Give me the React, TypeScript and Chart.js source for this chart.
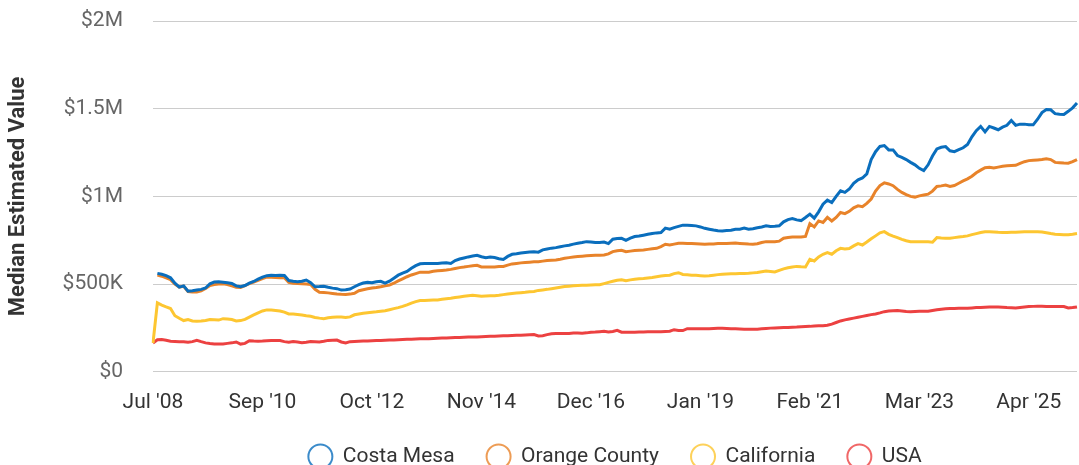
import React, { useEffect, useRef } from "react";
import { Chart, registerables } from "chart.js";

Chart.register(...registerables);

// Values in thousands of dollars, one per month (index 0 = Jul '08, index 1 = Sep '08, then monthly)
const costaMesa: (number | null)[] = [
  null, 561, 556, 548, 536, 505, 483, 490, 460, 462,
  466, 470, 478, 502, 512, 513, 511, 508, 504, 490,
  485, 492, 505, 515, 528, 540, 548, 550, 549, 551,
  549, 520, 516, 514, 516, 523, 508, 485, 486, 488,
  482, 477, 474, 466, 468, 472, 485, 497, 506, 511,
  508, 513, 516, 505, 517, 534, 551, 562, 572, 590,
  605, 616, 618, 618, 618, 618, 620, 622, 618, 634,
  643, 649, 655, 660, 664, 656, 651, 655, 652, 645,
  641, 658, 670, 673, 677, 680, 683, 685, 682, 695,
  700, 705, 708, 713, 718, 722, 728, 733, 737, 742,
  740, 737, 737, 740, 731, 756, 760, 761, 750, 762,
  771, 774, 779, 784, 789, 792, 794, 819, 813, 822,
  829, 836, 836, 834, 832, 826, 818, 813, 808, 804,
  803, 805, 807, 813, 813, 819, 813, 816, 821, 826,
  832, 829, 830, 832, 855, 868, 874, 866, 862, 880,
  899, 876, 912, 955, 979, 965, 1000, 1032, 1023, 1042,
  1075, 1095, 1105, 1128, 1210, 1255, 1285, 1290, 1265, 1265,
  1233, 1222, 1210, 1194, 1180, 1160, 1147, 1180, 1230, 1271,
  1280, 1284, 1260, 1255, 1266, 1277, 1296, 1340, 1375, 1399,
  1368, 1399, 1390, 1380, 1395, 1405, 1433, 1405, 1412, 1412,
  1408, 1408, 1440, 1478, 1495, 1494, 1472, 1468, 1467, 1485,
  1505, 1532,
];

const orangeCounty: (number | null)[] = [
  null, 551, 545, 535, 525, 500, 483, 488, 458, 455,
  455, 462, 475, 492, 497, 500, 502, 498, 490, 482,
  481, 492, 503, 512, 522, 532, 540, 539, 537, 536,
  536, 510, 505, 503, 502, 500, 498, 470, 454, 452,
  450, 447, 444, 442, 441, 443, 448, 462, 468, 473,
  478, 481, 485, 490, 494, 505, 518, 530, 542, 552,
  560, 568, 568, 568, 573, 576, 578, 580, 584, 589,
  594, 597, 601, 605, 607, 598, 597, 597, 598, 600,
  601, 608, 615, 618, 621, 623, 625, 627, 628, 631,
  634, 636, 638, 642, 647, 651, 654, 657, 659, 661,
  663, 664, 665, 666, 672, 685, 690, 693, 685, 688,
  691, 693, 695, 698, 701, 704, 714, 727, 723, 728,
  733, 733, 732, 731, 730, 729, 727, 728, 729, 731,
  731, 732, 733, 734, 732, 730, 728, 727, 730, 737,
  742, 742, 742, 745, 762, 766, 769, 769, 769, 772,
  845, 826, 860, 851, 880, 860, 880, 908, 902, 915,
  935, 946, 941, 960, 985, 1030, 1062, 1077, 1071, 1061,
  1040, 1023, 1010, 1000, 996, 1003, 1008, 1013, 1030, 1057,
  1060, 1065, 1057, 1062, 1075, 1088, 1100, 1115, 1135, 1150,
  1164, 1166, 1162, 1167, 1172, 1175, 1176, 1177, 1188, 1198,
  1204, 1206, 1208, 1210, 1214, 1210, 1194, 1192, 1190, 1189,
  1198, 1210,
];

const california: (number | null)[] = [
  164, 393, 380, 370, 361, 320, 305, 292, 298, 290,
  288, 290, 293, 298, 297, 295, 303, 301, 298, 290,
  292, 299, 312, 324, 336, 347, 353, 352, 350, 347,
  340, 330, 329, 327, 324, 320, 317, 310, 306, 303,
  308, 311, 313, 312, 310, 313, 325, 330, 334, 337,
  340, 342, 345, 348, 354, 360, 366, 373, 382, 392,
  400, 406, 407, 408, 409, 410, 413, 416, 419, 423,
  427, 431, 434, 437, 434, 431, 432, 433, 433, 436,
  440, 444, 447, 449, 451, 453, 456, 458, 464, 467,
  470, 474, 478, 482, 486, 488, 490, 492, 493, 494,
  495, 496, 496, 503, 510, 516, 522, 525, 519, 524,
  528, 530, 532, 535, 538, 542, 546, 549, 551, 560,
  565, 555, 553, 551, 550, 548, 546, 548, 551, 554,
  556, 558, 559, 559, 560, 561, 562, 564, 566, 570,
  574, 572, 569, 578, 587, 593, 598, 601, 599, 598,
  641, 632, 655, 670, 679, 670, 690, 704, 700, 703,
  718, 731, 723, 740, 758, 775, 792, 799, 784, 774,
  765, 755, 747, 742, 741, 741, 742, 741, 739, 765,
  763, 762, 762, 765, 768, 771, 775, 782, 788, 794,
  798, 799, 797, 795, 794, 794, 795, 796, 797, 798,
  799, 799, 799, 797, 793, 788, 784, 783, 782, 781,
  784, 788,
];

const usa: (number | null)[] = [
  164, 183, 184, 180, 174, 173, 172, 171, 168, 172,
  180, 172, 165, 161, 159, 158, 159, 162, 165, 170,
  158, 162, 177, 175, 174, 175, 177, 178, 178, 178,
  172, 169, 173, 170, 166, 168, 173, 172, 170, 174,
  179, 180, 181, 170, 164, 172, 173, 174, 175, 176,
  177, 178, 179, 180, 181, 182, 183, 184, 185, 186,
  187, 188, 188, 189, 190, 191, 192, 193, 194, 195,
  196, 197, 198, 199, 199, 200, 201, 202, 203, 204,
  205, 206, 207, 208, 209, 210, 211, 212, 204, 206,
  212, 217, 218, 218, 218, 219, 221, 221, 220, 222,
  226, 227, 229, 231, 227, 230, 236, 226, 225, 226,
  226, 227, 227, 228, 228, 229, 229, 230, 231, 240,
  236, 235, 246, 246, 246, 246, 246, 246, 247, 248,
  248, 247, 246, 245, 244, 243, 243, 242, 243, 245,
  247, 249, 250, 251, 252, 253, 254, 255, 257, 258,
  259, 261, 262, 263, 265, 272, 281, 290, 296, 301,
  306, 311, 316, 321, 326, 330, 336, 343, 346, 348,
  349, 347, 344, 342, 344, 345, 345, 345, 350, 354,
  357, 359, 361, 361, 362, 362, 362, 364, 366, 367,
  368, 369, 370, 369, 368, 366, 365, 364, 367, 370,
  372, 373, 374, 374, 373, 373, 372, 372, 372, 364,
  366, 370,
];

const seriesNames = ["Costa Mesa", "Orange County", "California", "USA"];
const seriesColors = ["#0a6ebd", "#e8832a", "#fdc631", "#ec4141"];
const yTickValues = [0, 500000, 1000000, 1500000, 2000000];
const yTickLabels = ["$0", "$500K", "$1M", "$1.5M", "$2M"];
const monthNames = ["Jan", "Feb", "Mar", "Apr", "May", "Jun", "Jul", "Aug", "Sep", "Oct", "Nov", "Dec"];
const tickEvery = 25;

function monthLabel(m: number): string {
  const year = 2008 + Math.floor(m / 12);
  return `${monthNames[m % 12]} '${String(year % 100).padStart(2, "0")}`;
}

// Index 0 is Jul '08; index 1 onward runs monthly from Sep '08
const labels: string[] = costaMesa.map((_, i) => (i === 0 ? monthLabel(6) : monthLabel(8 + (i - 1))));

const FONT = "Roboto";

export default function App() {
  const ref = useRef<HTMLCanvasElement | null>(null);

  useEffect(() => {
    document.body.style.margin = "0";
    document.body.style.overflow = "hidden";
    const canvas = ref.current;
    if (!canvas) return;
    const all = [costaMesa, orangeCounty, california, usa];
    const chart = new Chart(canvas, {
      type: "line",
      data: {
        labels,
        datasets: all.map((arr, k) => ({
          label: seriesNames[k],
          data: arr.map((v) => (v == null ? null : v * 1000)),
          borderColor: seriesColors[k],
          backgroundColor: "rgba(0,0,0,0)",
          borderWidth: 3,
          pointRadius: 0,
          pointHoverRadius: 0,
          tension: 0,
          spanGaps: false,
        })),
      },
      options: {
        responsive: false,
        animation: false,
        devicePixelRatio: 1,
        layout: { padding: { left: 0, right: 2, top: 21, bottom: 0 } },
        plugins: {
          tooltip: { enabled: false },
          legend: {
            position: "bottom",
            fullSize: false,
            labels: {
              usePointStyle: true,
              pointStyle: "circle",
              pointStyleWidth: 24,
              boxHeight: 17,
              boxWidth: 24,
              padding: 32,
              color: "#333333",
              font: { family: FONT, size: 21 },
              generateLabels: (c: any) =>
                Chart.defaults.plugins.legend.labels.generateLabels(c).map((it: any, k: number) => ({
                  ...it,
                  lineWidth: 2,
                  fillStyle: "rgba(0,0,0,0)",
                  strokeStyle: seriesColors[k] + "cc",
                })),
            },
          },
        },
        scales: {
          x: {
            type: "category",
            grid: { display: false },
            border: { display: false },
            afterFit: (scale: any) => {
              scale.height = scale.height - 11;
            },
            ticks: {
              autoSkip: false,
              maxRotation: 0,
              minRotation: 0,
              padding: 10,
              color: "#333333",
              font: { family: FONT, size: 21 },
              callback: (_v: any, i: number) => (i % tickEvery === 0 ? labels[i] : null),
            },
          },
          y: {
            min: 0,
            max: 2000000,
            grid: { color: "#cccccc", lineWidth: 1, drawTicks: false },
            border: { display: false },
            afterBuildTicks: (scale: any) => {
              scale.ticks = yTickValues.map((v) => ({ value: v }));
            },
            afterFit: (scale: any) => {
              scale.width = 153;
              scale.paddingTop = 0;
              scale.paddingBottom = 0;
            },
            ticks: {
              padding: 30,
              color: "#666666",
              font: { family: FONT, size: 21 },
              callback: (v: any) => {
                const idx = yTickValues.indexOf(Number(v));
                return idx >= 0 ? yTickLabels[idx] : "";
              },
            },
            title: {
              display: true,
              text: "Median Estimated Value",
              color: "#333333",
              font: { family: FONT, size: 22, weight: "bold" },
              padding: { top: 5, bottom: 0 },
            },
          },
        },
      },
    } as any);
    return () => chart.destroy();
  }, []);

  return (
    <div style={{ position: "fixed", left: 0, top: 0, width: 1079, height: 465, overflow: "hidden", background: "#fff" }}>
      <canvas ref={ref} width={1079} height={477} style={{ display: "block" }} />
    </div>
  );
}
